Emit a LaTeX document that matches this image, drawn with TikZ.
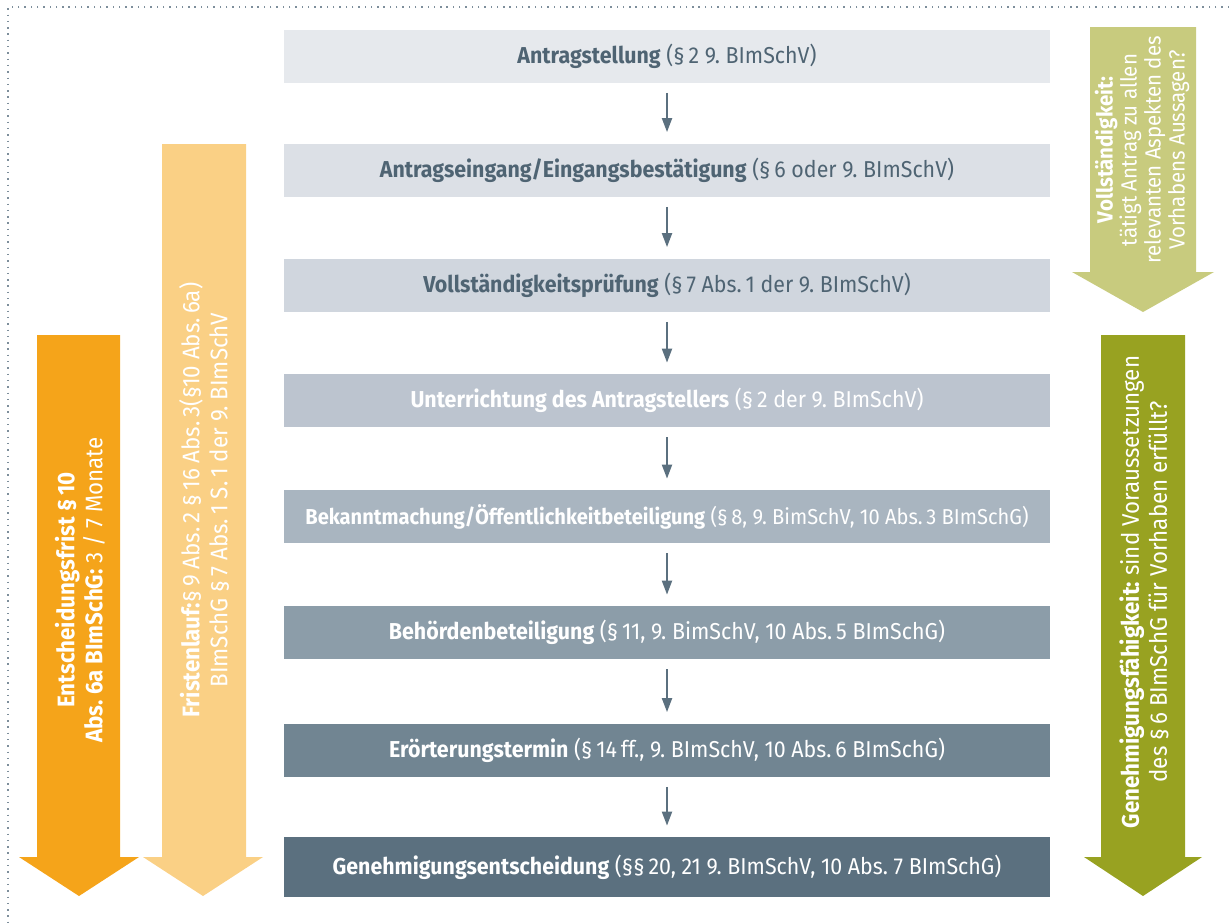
\documentclass[tikz,border=0pt]{standalone}
\usepackage{fontspec}
\setmainfont{Fira Sans}[FakeStretch=0.93]
\frenchspacing
\usetikzlibrary{arrows.meta}

\definecolor{stepA}{HTML}{E6E9ED}
\definecolor{stepB}{HTML}{DCE0E6}
\definecolor{stepC}{HTML}{D0D6DE}
\definecolor{stepD}{HTML}{BCC4CF}
\definecolor{stepE}{HTML}{A9B5C0}
\definecolor{stepF}{HTML}{8C9DA9}
\definecolor{stepG}{HTML}{718592}
\definecolor{stepH}{HTML}{5B707F}
\definecolor{darktext}{HTML}{4F6473}
\definecolor{fristA}{HTML}{F5A41A}
\definecolor{fristB}{HTML}{FAD085}
\definecolor{pruefA}{HTML}{C8CB7E}
\definecolor{pruefB}{HTML}{98A221}
\definecolor{frame}{HTML}{7D8E9B}

\tikzset{
    stepbox/.style={minimum width=383pt, minimum height=26.5pt, inner sep=0pt,
        font=\fontsize{11.5}{13}\selectfont},
    flow/.style={-{Triangle[length=7pt, width=5pt]}, draw=stepH, line width=1pt,
        shorten <=5pt, shorten >=5.5pt},
    bandtext/.style={rotate=90, align=center, text=white,
        font=\fontsize{12}{14}\selectfont}
}

\begin{document}
\begin{tikzpicture}[x=0.5pt, y=-0.5pt]

    \useasboundingbox (0, 0) rectangle (1229, 923);

    % Declare the frame
    \draw[frame, line width=0.7pt, dash pattern=on 0.7pt off 2.45pt]
        (1229, 7) -- (8, 7) -- (8, 923);

    % Declare the steps
    \node[stepbox, fill=stepA, text=darktext] at (667, 56) (antrag)
        {\textbf{Antragstellung} (§\,2 9. BImSchV)};
    \node[stepbox, fill=stepB, text=darktext] at (667, 170) (eingang)
        {\textbf{Antragseingang/Eingangsbestätigung} (§\,6 oder 9. BImSchV)};
    \node[stepbox, fill=stepC, text=darktext] at (667, 285) (pruefung)
        {\textbf{Vollständigkeitsprüfung} (§\,7 Abs.\,1 der 9. BImSchV)};
    \node[stepbox, fill=stepD, text=white] at (667, 400.5) (unterricht)
        {\textbf{Unterrichtung des Antragstellers} (§\,2 der 9. BImSchV)};
    \node[stepbox, fill=stepE, text=white, font=\fontsize{10.8}{13}\selectfont] at (667, 516.5) (bekannt)
        {\textbf{Bekanntmachung/Öffentlichkeitbeteiligung} (§\,8, 9. BimSchV, 10 Abs.\,3 BImSchG)};
    \node[stepbox, fill=stepF, text=white] at (667, 632.5) (behoerde)
        {\textbf{Behördenbeteiligung} (§\,11, 9. BimSchV, 10 Abs.\,5 BImSchG)};
    \node[stepbox, fill=stepG, text=white] at (667, 750) (eroerterung)
        {\textbf{Erörterungstermin} (§\,14\,ff., 9. BImSchV, 10 Abs.\,6 BImSchG)};
    \node[stepbox, fill=stepH, text=white, minimum height=30pt] at (667, 867) (entscheidung)
        {\textbf{Genehmigungsentscheidung} (§§\,20, 21 9. BImSchV, 10 Abs. 7 BImSchG)};

    % Declare edges
    \draw[flow] (antrag) -- (eingang);
    \draw[flow] (eingang) -- (pruefung);
    \draw[flow] (pruefung) -- (unterricht);
    \draw[flow] (unterricht) -- (bekannt);
    \draw[flow] (bekannt) -- (behoerde);
    \draw[flow] (behoerde) -- (eroerterung);
    \draw[flow] (eroerterung) -- (entscheidung);

    % Declare the big arrows on the left
    \fill[fristA] (37, 335) -- (120, 335) -- (120, 857) -- (139, 857) -- (79, 896)
        -- (19, 857) -- (37, 857) -- cycle;
    \fill[fristB] (162, 144) -- (246, 144) -- (246, 857) -- (263, 857) -- (203, 896)
        -- (143, 857) -- (162, 857) -- cycle;

    % Declare the big arrows on the right
    \fill[pruefA] (1090, 27) -- (1196, 27) -- (1196, 272) -- (1214, 272) -- (1143, 312)
        -- (1072, 272) -- (1090, 272) -- cycle;
    \fill[pruefB] (1101, 335) -- (1185, 335) -- (1185, 857) -- (1202, 857) -- (1143, 896)
        -- (1084, 857) -- (1101, 857) -- cycle;

    % Declare the arrow texts
    \node[bandtext] at (80, 590) (frist)
        {\textbf{Entscheidungsfrist §\,10}\\\textbf{Abs. 6a BImSchG:} 3 / 7 Monate};
    \node[bandtext] at (204, 500) (lauf)
        {\textbf{Fristenlauf:}§\,9 Abs.\,2 §\,16 Abs.\,3(§10 Abs.\,6a)\\BImSchG §\,7 Abs.\,1 S.\,1 der 9. BImSchV};
    \node[bandtext, font=\fontsize{11}{12}\selectfont] at (1142, 150) (vollst)
        {\textbf{Vollständigkeit:}\\tätigt Antrag zu allen\\relevanten Aspekten des\\Vorhabens Aussagen?};
    \node[bandtext] at (1144, 592) (faehig)
        {\textbf{Genehmigungsfähigkeit:} sind Voraussetzungen\\des §\,6 BImSchG für Vorhaben erfüllt?};

\end{tikzpicture}
\end{document}
